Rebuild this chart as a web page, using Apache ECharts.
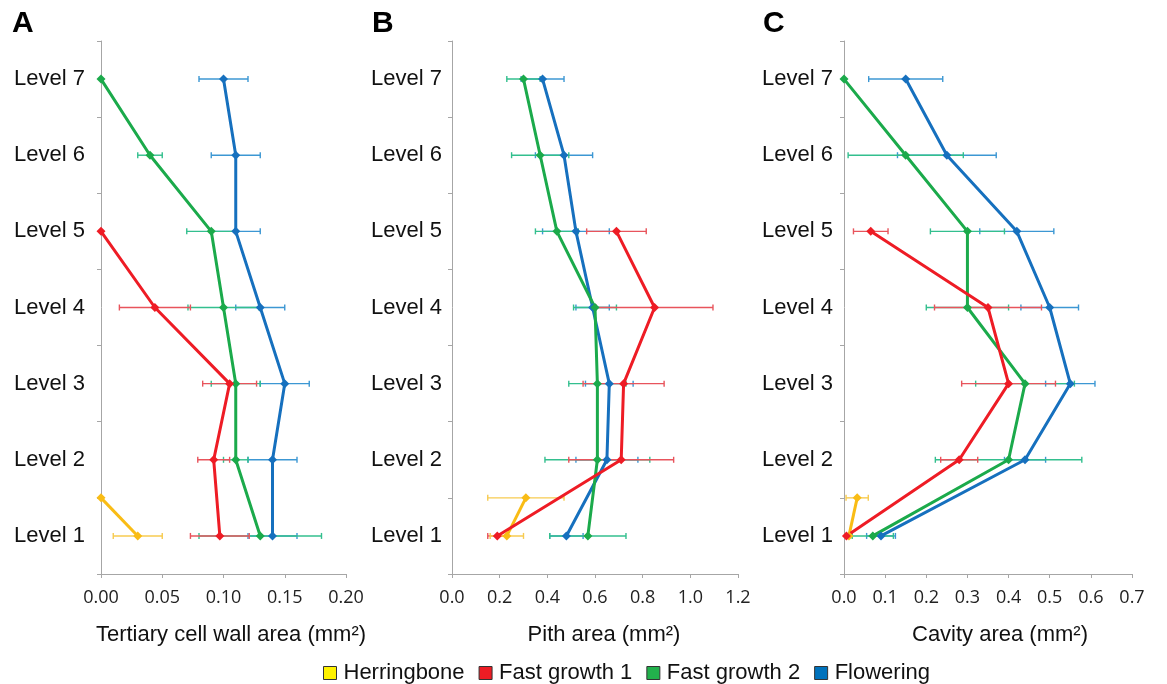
<!DOCTYPE html>
<html><head><meta charset="utf-8">
<script src="https://cdn.jsdelivr.net/npm/echarts@6/dist/echarts.min.js"></script>
<style>html,body{margin:0;padding:0;background:#fff}#c{width:1167px;height:684px}</style>
</head><body><div id="c"></div>
<script>
// ---- categories / tick labels ----
const levels = ['Level 1','Level 2','Level 3','Level 4','Level 5','Level 6','Level 7'];
const levelPos = [1,2,3,4,5,6,7];
const herringPos = [1,1.5];
const seriesNames = ['Herringbone','Fast growth 1','Fast growth 2','Flowering'];

// ---- Panel A: Tertiary cell wall area (mm²) ----
const aHerring = [0.03, 0.0];           const aHerringErr = [0.02, 0];
const aFast1 = [0.097, 0.092, 0.105, 0.044, 0.0];   const aFast1Err = [0.024, 0.013, 0.022, 0.029, 0];
const aFast2 = [0.13, 0.11, 0.11, 0.10, 0.09, 0.04, 0.0]; const aFast2Err = [0.05, 0.01, 0.02, 0.029, 0.02, 0.01, 0];
const aFlower = [0.14, 0.14, 0.15, 0.13, 0.11, 0.11, 0.10]; const aFlowerErr = [0.02, 0.02, 0.02, 0.02, 0.02, 0.02, 0.02];

// ---- Panel B: Pith area (mm²) ----
const bHerring = [0.23, 0.31];          const bHerringErr = [0.07, 0.16];
const bFast1 = [0.19, 0.71, 0.72, 0.85, 0.69];      const bFast1Err = [0.04, 0.22, 0.17, 0.245, 0.125];
const bFast2 = [0.57, 0.61, 0.61, 0.60, 0.44, 0.37, 0.30]; const bFast2Err = [0.16, 0.22, 0.12, 0.09, 0.09, 0.12, 0.07];
const bFlower = [0.48, 0.65, 0.66, 0.59, 0.52, 0.47, 0.38]; const bFlowerErr = [0.07, 0.13, 0.10, 0.07, 0.14, 0.12, 0.09];

// ---- Panel C: Cavity area (mm²) ----
const cHerring = [0.012, 0.032];        const cHerringErr = [0.0, 0.027];
const cFast1 = [0.006, 0.28, 0.40, 0.35, 0.065];    const cFast1Err = [0.0, 0.045, 0.114, 0.13, 0.042];
const cFast2 = [0.07, 0.40, 0.44, 0.30, 0.30, 0.15, 0.0]; const cFast2Err = [0.05, 0.178, 0.12, 0.10, 0.09, 0.14, 0];
const cFlower = [0.09, 0.44, 0.55, 0.50, 0.42, 0.25, 0.15]; const cFlowerErr = [0.035, 0.05, 0.06, 0.07, 0.09, 0.12, 0.09];

const xTitles = ['Tertiary cell wall area (mm²)', 'Pith area (mm²)', 'Cavity area (mm²)'];
const panelLetters = ['A','B','C'];
const xMax = [0.2, 1.2, 0.7];
const xInterval = [0.05, 0.2, 0.1];
const xDecimals = [2, 1, 1];

// ---- styles ----
const lineColors = {'Herringbone':'#F9BC15','Fast growth 1':'#EE1C25','Fast growth 2':'#1BAA4B','Flowering':'#1670BE'};
const errColors  = {'Herringbone':'#F7CB50','Fast growth 1':'#E8545C','Fast growth 2':'#33BF8E','Flowering':'#3C97D3'};
const legendColors = {'Herringbone':'#FFF200','Fast growth 1':'#ED1C24','Fast growth 2':'#22B14C','Flowering':'#0072BC'};

const grids = [
  {left:101, top:41, width:245, height:533},
  {left:452, top:41, width:286, height:533},
  {left:844, top:41, width:288, height:533}
];
const yLabelMargin = [16, 10, 11];

const panels = [
  {Herringbone:[aHerring,aHerringErr,herringPos],'Fast growth 1':[aFast1,aFast1Err,levelPos],'Fast growth 2':[aFast2,aFast2Err,levelPos],'Flowering':[aFlower,aFlowerErr,levelPos]},
  {Herringbone:[bHerring,bHerringErr,herringPos],'Fast growth 1':[bFast1,bFast1Err,levelPos],'Fast growth 2':[bFast2,bFast2Err,levelPos],'Flowering':[bFlower,bFlowerErr,levelPos]},
  {Herringbone:[cHerring,cHerringErr,herringPos],'Fast growth 1':[cFast1,cFast1Err,levelPos],'Fast growth 2':[cFast2,cFast2Err,levelPos],'Flowering':[cFlower,cFlowerErr,levelPos]}
];

const axisGray = '#A6A6A6';
const xAxes = [], yAxes = [], series = [];
grids.forEach((g, i) => {
  xAxes.push({
    type:'value', gridIndex:i, min:0, max:xMax[i], interval:xInterval[i],
    axisLine:{show:true, lineStyle:{color:axisGray, width:1}},
    axisTick:{show:true, length:4, lineStyle:{color:axisGray}},
    splitLine:{show:false},
    axisLabel:{color:'#222', fontFamily:'Open Sans', fontSize:18, margin:15,
      formatter: v => v.toFixed(xDecimals[i])}
  });
  yAxes.push({
    type:'category', gridIndex:i, data:levels, boundaryGap:true,
    axisLine:{show:true, lineStyle:{color:axisGray, width:1}},
    axisTick:{show:true, length:4, lineStyle:{color:axisGray}},
    splitLine:{show:false},
    axisLabel:{color:'#111', fontFamily:'Liberation Sans', fontSize:22, margin:yLabelMargin[i]}
  });
  yAxes.push({
    type:'value', gridIndex:i, min:0.5, max:7.5, show:false
  });
});

function errRender(color) {
  return function(params, api) {
    const lo = api.value(0), y = api.value(1), hi = api.value(2);
    if (hi - lo <= 0) return null;
    const p1 = api.coord([lo, y]), p2 = api.coord([hi, y]);
    const h = 3;
    const st = {stroke: color, lineWidth: 1.4};
    return {type:'group', children:[
      {type:'line', shape:{x1:p1[0], y1:p1[1], x2:p2[0], y2:p2[1]}, style:st},
      {type:'line', shape:{x1:p1[0], y1:p1[1]-h, x2:p1[0], y2:p1[1]+h}, style:st},
      {type:'line', shape:{x1:p2[0], y1:p2[1]-h, x2:p2[0], y2:p2[1]+h}, style:st}
    ]};
  };
}

const drawOrder = ['Flowering','Fast growth 2','Fast growth 1','Herringbone'];
panels.forEach((p, i) => {
  drawOrder.forEach(name => {
    const [vals, errs, pos] = p[name];
    series.push({
      type:'custom', name: name + ' err', xAxisIndex:i, yAxisIndex:2*i+1, z:1, silent:true,
      renderItem: errRender(errColors[name]),
      data: vals.map((v, k) => [v - errs[k], pos[k], v + errs[k]]),
      encode:{x:[0,2], y:1}
    });
  });
});
panels.forEach((p, i) => {
  ['Flowering','Fast growth 2','Herringbone','Fast growth 1'].forEach(name => {
    const [vals, errs, pos] = p[name];
    series.push({
      type:'line', name: name, xAxisIndex:i, yAxisIndex:2*i+1, z:3,
      symbol:'diamond', symbolSize:9, showSymbol:true,
      lineStyle:{color:lineColors[name], width:3},
      itemStyle:{color:lineColors[name]},
      data: vals.map((v, k) => [v, pos[k]]),
      animation:false
    });
  });
});

const graphics = [];
const letterX = [12, 372, 763];
panelLetters.forEach((t, i) => graphics.push({type:'text', left:letterX[i], top:9,
  style:{text:t, font:'bold 30px "Liberation Sans"', fill:'#000'}}));
const titleCenterX = [231, 604, 1000];
xTitles.forEach((t, i) => graphics.push({type:'text', x:titleCenterX[i], y:635,
  style:{text:t, font:'22px "Liberation Sans"', fill:'#111', textAlign:'center', textVerticalAlign:'middle'}}));

const option = {
  backgroundColor:'#fff',
  animation:false,
  grid: grids.map(g => Object.assign({outerBoundsMode:'none', containLabel:false}, g)),
  xAxis: xAxes,
  yAxis: yAxes,
  legend: {
    left:318, top:657, orient:'horizontal', itemWidth:13, itemHeight:13, itemGap:14,
    textStyle:{fontFamily:'Liberation Sans', fontSize:22, color:'#111', padding:[0,0,0,2]},
    selectedMode:false,
    data: seriesNames.map(n => ({name:n, icon:'rect',
      itemStyle:{color:legendColors[n], borderColor:'#333', borderWidth:1}}))
  },
  graphic: graphics,
  series: series
};
const chart = echarts.init(document.getElementById('c'), null, {renderer:'canvas'});
chart.setOption(option);
</script>
</body></html>
